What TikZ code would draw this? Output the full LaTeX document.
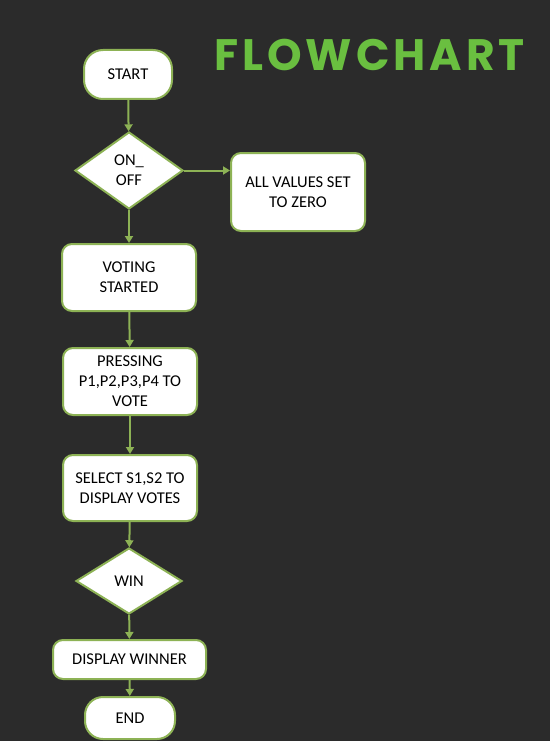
\documentclass[tikz,border=0pt]{standalone}
\usepackage{fontspec}
\setmainfont{Carlito}
\newfontfamily\titlefont{Poppins}[LetterSpace=9]
\usetikzlibrary{shapes.geometric,arrows.meta}
\definecolor{bgc}{HTML}{2B2B2B}
\definecolor{edgec}{HTML}{8DB255}
\definecolor{titlec}{HTML}{6ABF40}
\tikzset{
  box/.style={draw=edgec,line width=2pt,fill=white,rounded corners=10pt,inner sep=0pt,align=center,font=\fontsize{16.5}{20}\selectfont},
  pill/.style={box,rounded corners=19pt},
  dia/.style={draw=edgec,line width=2pt,fill=white,diamond,inner sep=0pt,align=center,font=\fontsize{16.5}{20}\selectfont},
  conn/.style={draw=edgec,line width=2pt,-{Triangle[length=7pt,width=8pt]}}
}
\begin{document}
\begin{tikzpicture}[x=1pt,y=-1pt]
\fill[bgc] (0,0) rectangle (550,741);
\useasboundingbox (0,0) rectangle (550,741);
\node[text=titlec,font=\titlefont\bfseries\fontsize{44}{44}\selectfont] (title) at (369.5,55) {FLOWCHART};
\node[pill,minimum width=88pt,minimum height=49pt] (start) at (128,74.5) {START};
\node[dia,minimum width=108pt,minimum height=77pt] (onoff) at (129,170.5) {ON\_\\OFF};
\node[box,minimum width=134pt,minimum height=78pt] (allv) at (298,192) {ALL VALUES SET\\TO ZERO};
\node[box,minimum width=134pt,minimum height=67pt] (vot) at (129,277.5) {VOTING\\STARTED};
\node[box,minimum width=134pt,minimum height=67pt] (press) at (130,381.5) {PRESSING\\P1,P2,P3,P4 TO\\VOTE};
\node[box,minimum width=134pt,minimum height=66pt] (sel) at (130,488) {SELECT S1,S2 TO\\DISPLAY VOTES};
\node[dia,minimum width=106pt,minimum height=66pt] (win) at (129,581) {WIN};
\node[box,minimum width=153pt,minimum height=39pt] (disp) at (129.5,659.5) {DISPLAY WINNER};
\node[pill,minimum width=90pt,minimum height=42pt,rounded corners=18pt] (end) at (130,718) {END};
\draw[conn] (start) -- (onoff);
\draw[conn] (onoff.east) -- (onoff.east -| allv.west);
\draw[conn] (onoff) -- (vot);
\draw[conn] (vot) -- (press);
\draw[conn] (press) -- (sel);
\draw[conn] (sel) -- (win);
\draw[conn] (win) -- (disp);
\draw[conn] (disp) -- (end);
\end{tikzpicture}
\end{document}
